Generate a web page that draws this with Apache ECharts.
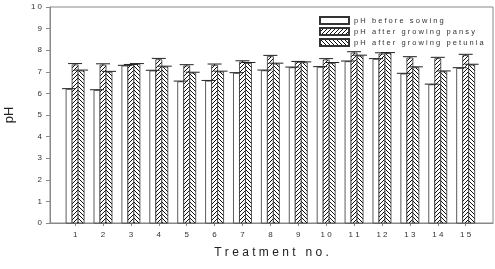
<!DOCTYPE html>
<html>
<head>
<meta charset="utf-8">
<script src="https://cdn.jsdelivr.net/npm/echarts@6/dist/echarts.min.js"></script>
<style>
  html, body { margin: 0; padding: 0; background: #fff; }
  #chart { width: 495px; height: 269px; }
</style>
</head>
<body>
<div id="chart"></div>
<script>
// 处理编号
var treatments = [1, 2, 3, 4, 5, 6, 7, 8, 9, 10, 11, 12, 13, 14, 15];
// pH 读数
var phBefore  = [6.19, 6.14, 7.27, 7.04, 6.54, 6.57, 6.93, 7.05, 7.19, 7.21, 7.47, 7.58, 6.90, 6.40, 7.16];
var phPansy   = [7.32, 7.31, 7.31, 7.56, 7.27, 7.30, 7.45, 7.70, 7.45, 7.55, 7.87, 7.82, 7.64, 7.61, 7.75];
var phPetunia = [7.04, 6.98, 7.35, 7.22, 6.94, 6.99, 7.39, 7.36, 7.42, 7.39, 7.73, 7.85, 7.19, 7.00, 7.31];
// 误差
var errBefore  = [0.03, 0.03, 0.03, 0.03, 0.03, 0.03, 0.03, 0.03, 0.03, 0.03, 0.03, 0.03, 0.03, 0.03, 0.03];
var errPansy   = [0.06, 0.06, 0.03, 0.06, 0.06, 0.06, 0.06, 0.06, 0.03, 0.06, 0.06, 0.06, 0.06, 0.06, 0.06];
var errPetunia = [0.04, 0.04, 0.03, 0.04, 0.04, 0.04, 0.04, 0.04, 0.04, 0.04, 0.04, 0.04, 0.04, 0.04, 0.04];
var yTicks = [0, 1, 2, 3, 4, 5, 6, 7, 8, 9, 10];
var seriesNames = ['pH before sowing', 'pH after growing pansy', 'pH after growing petunia'];

// 字母间加空格（模拟原图的字距）
function spaced(s){
    return String(s).split('').join(' ');
}

// 斜线填充
function hatch(dir){
    var c = document.createElement('canvas');
    c.width = 4; c.height = 4;
    var g = c.getContext('2d');
    g.fillStyle = '#fff';
    g.fillRect(0, 0, 4, 4);
    g.strokeStyle = '#111';
    g.lineWidth = 1;
    g.beginPath();
    if(dir > 0){
        g.moveTo(0, 4); g.lineTo(4, 0);
        g.moveTo(-1, 1); g.lineTo(1, -1);
        g.moveTo(3, 5); g.lineTo(5, 3);
    }else{
        g.moveTo(0, 0); g.lineTo(4, 4);
        g.moveTo(3, -1); g.lineTo(5, 1);
        g.moveTo(-1, 3); g.lineTo(1, 5);
    }
    g.stroke();
    return c;
}

var barW = 6;
var fills = ['#fff', {image: hatch(1), repeat: 'repeat'}, {image: hatch(-1), repeat: 'repeat'}];

function pairs(vals, errs){
    var out = [];
    for(var i = 0; i < vals.length; i++){
        out.push([treatments[i], vals[i], errs[i]]);
    }
    return out;
}

// 柱子（custom，避免数值轴被柱宽撑开）
function barSeries(k, vals, errs){
    return {
        name: seriesNames[k],
        type: 'custom',
        z: 2,
        data: pairs(vals, errs),
        encode: {x: 0, y: 1},
        itemStyle: {color: fills[k], borderColor: '#333', borderWidth: 0.8},
        renderItem: function(params, api){
            var top = api.coord([api.value(0), api.value(1)]);
            var base = api.coord([api.value(0), 0]);
            var left = top[0] + (k - 1) * barW - barW / 2;
            return {
                type: 'rect',
                shape: {x: left, y: top[1], width: barW, height: base[1] - top[1]},
                style: {fill: fills[k], stroke: '#333', lineWidth: 0.8}
            };
        }
    };
}

function errSeries(k, vals, errs){
    return {
        type: 'custom',
        z: 5,
        silent: true,
        data: pairs(vals, errs),
        encode: {x: 0, y: 1},
        renderItem: function(params, api){
            var x = api.value(0), y = api.value(1), e = api.value(2);
            var top = api.coord([x, y + e]);
            var base = api.coord([x, y]);
            var cx = top[0] + (k - 1) * barW;
            return {
                type: 'group',
                children: [
                    {type: 'line', shape: {x1: cx, y1: base[1], x2: cx, y2: top[1]}, style: {stroke: '#222', lineWidth: 1}},
                    {type: 'line', shape: {x1: cx - 7, y1: top[1], x2: cx + 7, y2: top[1]}, style: {stroke: '#222', lineWidth: 1}}
                ]
            };
        }
    };
}

var chart = echarts.init(document.getElementById('chart'));
var option = {
    animation: false,
    grid: {left: 50, right: 2, top: 7, bottom: 46, show: true, borderColor: '#888', borderWidth: 1, outerBoundsMode: 'none'},
    legend: {
        orient: 'vertical',
        left: 314,
        top: 11,
        itemWidth: 29,
        itemHeight: 7,
        itemGap: 2,
        icon: 'rect',
        data: seriesNames,
        textStyle: {fontSize: 7.5, color: '#333', fontFamily: 'Liberation Sans, Arial, sans-serif'},
        formatter: function(n){ return spaced(n); }
    },
    xAxis: {
        type: 'value',
        min: 0.1,
        max: 15.98,
        name: spaced('Treatment no.'),
        nameLocation: 'middle',
        nameGap: 24,
        nameTextStyle: {fontSize: 12, color: '#222', fontFamily: 'Liberation Sans, Arial, sans-serif'},
        splitLine: {show: false},
        axisLine: {lineStyle: {color: '#888'}},
        axisTick: {show: true, length: 3, lineStyle: {color: '#888'}, customValues: treatments},
        axisLabel: {
            customValues: treatments,
            fontSize: 8, color: '#333', margin: 8,
            fontFamily: 'Liberation Sans, Arial, sans-serif',
            formatter: function(v){ return spaced(v); }
        }
    },
    yAxis: {
        type: 'value',
        min: 0,
        max: 10,
        interval: 1,
        name: 'pH',
        nameLocation: 'middle',
        nameGap: 34,
        nameTextStyle: {fontSize: 13, color: '#222', fontFamily: 'Liberation Sans, Arial, sans-serif'},
        splitLine: {show: false},
        axisLine: {show: true, lineStyle: {color: '#888'}},
        axisTick: {show: true, length: 4, lineStyle: {color: '#888'}},
        axisLabel: {
            fontSize: 8, color: '#333', margin: 8,
            fontFamily: 'Liberation Sans, Arial, sans-serif',
            formatter: function(v){ return yTicks.indexOf(v) >= 0 ? spaced(v) : ''; }
        }
    },
    series: [
        barSeries(0, phBefore, errBefore),
        barSeries(1, phPansy, errPansy),
        barSeries(2, phPetunia, errPetunia),
        errSeries(0, phBefore, errBefore),
        errSeries(1, phPansy, errPansy),
        errSeries(2, phPetunia, errPetunia)
    ]
};
chart.setOption(option);
</script>
</body>
</html>
